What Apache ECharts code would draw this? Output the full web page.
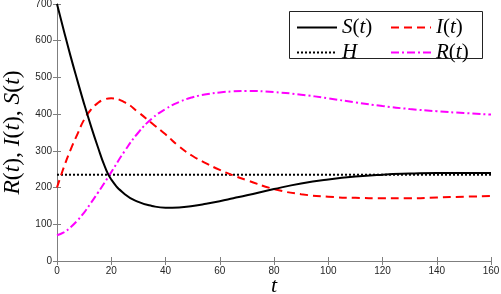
<!DOCTYPE html>
<html><head><meta charset="utf-8">
<script src="https://cdn.jsdelivr.net/npm/echarts@6/dist/echarts.min.js"></script>
<style>html,body{margin:0;padding:0;background:#fff}#c{width:501px;height:294px}</style>
</head><body><div id="c"></div>
<script>
var tVals = [0,2.5,5,7.5,10,12.5,15,17.5,20,25,30,35,40,45,50,55,60,65,70,80,90,100,110,120,130,140,150,160];
var S = [700,628,558,492,428,368,312,260,222,182,161,150,145,146,150,156,163,171,179,196,211,222,230,235,238,240,240,240];
var I = [200,255,303,345,385,412,430,440,443,432,405,375,345,312,286,266,248,233,220,196,182,175,172,171,171,173,175,177];
var R = [70,78,92,110,132,158,185,213,242,300,350,388,414,433,446,454,459,462,463,460,453,443,432,422,414,408,403,399];
var H = 235;
var xTicks = [0,20,40,60,80,100,120,140,160];
var yTicks = [0,100,200,300,400,500,600,700];

function pairs(v){ return tVals.map(function(t,i){ return [t, v[i]]; }); }
var serif = 'Liberation Serif';
var chart = echarts.init(document.getElementById('c'), null, {renderer:'canvas'});
var axisCol = '#7f7f7f';
var labCol = '#262626';
var common = {
  axisLine:{show:true, lineStyle:{color:axisCol, width:1}},
  axisTick:{show:true, inside:true, length:4, lineStyle:{color:axisCol}},
  splitLine:{show:false}
};
var legRich = {i:{fontFamily:serif,fontStyle:'italic',fontSize:21,color:'#000'},n:{fontFamily:serif,fontSize:21,color:'#000'}};
chart.setOption({
  animation:false,
  grid:{left:57, right:10, top:4, bottom:33, outerBoundsMode:'none', containLabel:false},
  xAxis:[
    Object.assign({type:'value', min:0, max:160, interval:20, position:'bottom',
      axisLabel:{color:labCol, fontFamily:'Liberation Sans', fontSize:10, margin:5},
      name:'{i|t}', nameLocation:'middle', nameGap:14, nameMoveOverlap:false,
      nameTextStyle:{rich:{i:{fontFamily:serif, fontStyle:'italic', fontSize:22, color:'#000'}}}
    }, common),
    Object.assign({type:'value', min:0, max:160, interval:20, position:'top', axisLabel:{show:false}}, common)
  ],
  yAxis:[
    Object.assign({type:'value', min:0, max:700, interval:100, position:'left',
      axisLabel:{color:labCol, fontFamily:'Liberation Sans', fontSize:10, margin:5},
      name:'{i|R}{n|(}{i|t}{n|), }{i|I}{n|(}{i|t}{n|), }{i|S}{n|(}{i|t}{n|)}',
      nameLocation:'middle', nameGap:26, nameRotate:90,
      nameTextStyle:{rich:{
        i:{fontFamily:serif, fontStyle:'italic', fontSize:23.5, color:'#000'},
        n:{fontFamily:serif, fontSize:23.5, color:'#000'}}}
    }, common),
    Object.assign({type:'value', min:0, max:700, interval:100, position:'right', axisLabel:{show:false}}, common)
  ],
  legend:[
    {left:291, top:12, orient:'vertical', itemWidth:40, itemHeight:10, itemGap:4,
     itemStyle:{opacity:0},
     data:['S(t)','H'], formatter:function(n){return n==='H'?'{i|H}':'{i|'+n[0]+'}{n|(}{i|t}{n|)}';},
     textStyle:{rich:legRich}},
    {left:385, top:12, orient:'vertical', itemWidth:40, itemHeight:10, itemGap:4,
     itemStyle:{opacity:0},
     data:['I(t)','R(t)'], formatter:function(n){return '{i|'+n[0]+'}{n|(}{i|t}{n|)}';},
     textStyle:{rich:legRich}}
  ],
  graphic:[{type:'rect', shape:{x:289.5, y:11.5, width:193, height:47}, style:{fill:'none', stroke:'#222', lineWidth:1}, z:100}],
  series:[
    {name:'S(t)', type:'line', data:pairs(S), smooth:true, symbol:'none', lineStyle:{color:'#000', width:2}, itemStyle:{color:'#000'}, z:4},
    {name:'I(t)', type:'line', data:pairs(I), smooth:true, symbol:'none', lineStyle:{color:'#ff0000', width:2, type:[8,5]}, itemStyle:{color:'#ff0000'}, z:3},
    {name:'H', type:'line', data:[[0,H],[160,H]], symbol:'none', lineStyle:{color:'#000', width:2, type:[2,2]}, itemStyle:{color:'#000'}, z:2},
    {name:'R(t)', type:'line', data:pairs(R), smooth:true, symbol:'none', lineStyle:{color:'#ff00ff', width:2, type:[8,3,2,3]}, itemStyle:{color:'#ff00ff'}, z:3}
  ]
});
</script></body></html>
